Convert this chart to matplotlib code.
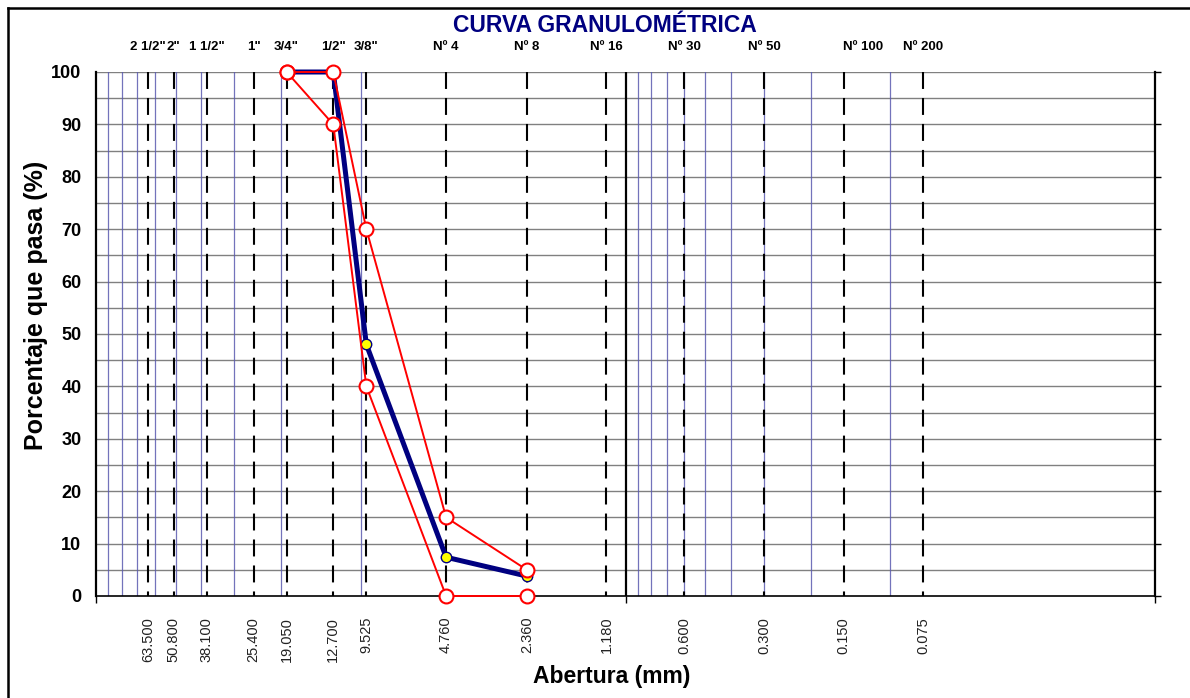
import matplotlib
matplotlib.use("Agg")
import matplotlib.pyplot as plt
from matplotlib.lines import Line2D

plt.rcParams["font.family"] = ["Liberation Sans", "DejaVu Sans"]
plt.rcParams["lines.scale_dashes"] = False

# sieve series (ASTM), opening in mm
SIEVE_NAMES = ['2 1/2"', '2"', '1 1/2"', '1"', '3/4"', '1/2"', '3/8"',
               'Nº 4', 'Nº 8', 'Nº 16', 'Nº 30', 'Nº 50', 'Nº 100', 'Nº 200']
SIEVE_MM = [63.5, 50.8, 38.1, 25.4, 19.05, 12.7, 9.525,
            4.76, 2.36, 1.18, 0.6, 0.3, 0.15, 0.075]
SIEVE_LABELS = ["63.500", "50.800", "38.100", "25.400", "19.050", "12.700", "9.525",
                "4.760", "2.360", "1.180", "0.600", "0.300", "0.150", "0.075"]

# gradation of the sample and the spec band
GRAD_MM = [19.05, 12.7, 9.525, 4.76, 2.36]
PASSING = [100, 100, 48, 7.4, 3.8]
UPPER = [100, 100, 70, 15, 5]
LOWER = [100, 90, 40, 0, 0]

# Excel-style log gridlines (only in two decades)
BLUE_GRID = [10, 20, 30, 40, 50, 60, 70, 80, 90,
             0.1, 0.2, 0.3, 0.4, 0.5, 0.6, 0.7, 0.8, 0.9]

navy, red = "#000080", "#ff0000"

fig = plt.figure(figsize=(11.9, 6.98), dpi=100)
ax = fig.add_axes([96 / 1190, 1 - 596 / 698, (1155 - 96) / 1190, (596 - 72) / 698])

ax.set_xscale("log")
ax.set_xlim(100, 0.01)
ax.set_ylim(0, 100)

# horizontal grid every 5 %
for y in range(5, 101, 5):
    ax.axhline(y, color="#808080", lw=1.0, zorder=1)
for v in BLUE_GRID:
    ax.axvline(v, color="#5a5ab0", lw=0.9, alpha=0.85, zorder=1)
ax.axvline(1, color="black", lw=1.6, zorder=2)
for s in SIEVE_MM:
    ax.plot([s, s], [100, 0], color="black", lw=1.5, dashes=(12.2, 6.5), zorder=2)

ax.plot(GRAD_MM, PASSING, "-o", color=navy, lw=3.6, ms=7.5, mfc="#ffff00",
        mec=navy, mew=1.0, zorder=4, clip_on=False)
for band in (UPPER, LOWER):
    ax.plot(GRAD_MM, band, "-o", color=red, lw=1.4, ms=10, mfc="white",
            mec=red, mew=1.5, zorder=5, clip_on=False)

# axes styling
ax.set_yticks(range(0, 101, 10))
ax.set_yticklabels([str(v) for v in range(0, 101, 10)], fontsize=13, fontweight="bold")
ax.tick_params(axis="y", left=False, right=True, direction="out", length=4.5,
               width=1.0, pad=6)
ax.set_xticks([100, 1, 0.01])
ax.set_xticklabels([])
ax.xaxis.set_minor_locator(matplotlib.ticker.NullLocator())
ax.tick_params(axis="x", direction="out", length=5, width=1.0)
ax.spines["top"].set_visible(False)
ax.spines["left"].set_linewidth(1.6)
ax.spines["right"].set_linewidth(1.6)
ax.spines["bottom"].set_linewidth(1.2)

nudge = {"Nº 100": 14}
for name, s, lab in zip(SIEVE_NAMES, SIEVE_MM, SIEVE_LABELS):
    ax.annotate(name, (s, 100), xytext=(nudge.get(name, 0), 18), textcoords="offset points",
                ha="center", va="center", fontsize=9.5, fontweight="bold",
                annotation_clip=False)
    ax.annotate(lab, (s, 0), xytext=(0, -15), textcoords="offset points",
                ha="center", va="top", rotation=90, fontsize=10.5, color="#222222",
                annotation_clip=False)

fig.text(605 / 1190, 1 - 25 / 698, "CURVA GRANULOMÉTRICA", ha="center", va="center",
         fontsize=16.5, fontweight="bold", color=navy)
fig.text(36 / 1190, 1 - 305 / 698, "Porcentaje que pasa (%)", ha="center", va="center",
         rotation=90, fontsize=18, fontweight="bold")
fig.text(612 / 1190, 1 - 677 / 698, "Abertura (mm)", ha="center", va="center",
         fontsize=16.5, fontweight="bold")

# chart-area border (only top and left edges fall inside the picture)
fig.add_artist(Line2D([8 / 1190, 1.0], [1 - 8 / 698, 1 - 8 / 698], color="black", lw=1.8,
                      transform=fig.transFigure))
fig.add_artist(Line2D([8 / 1190, 8 / 1190], [0, 1 - 8 / 698], color="black", lw=1.8,
                      transform=fig.transFigure))

fig.savefig("out.png", dpi=100)
